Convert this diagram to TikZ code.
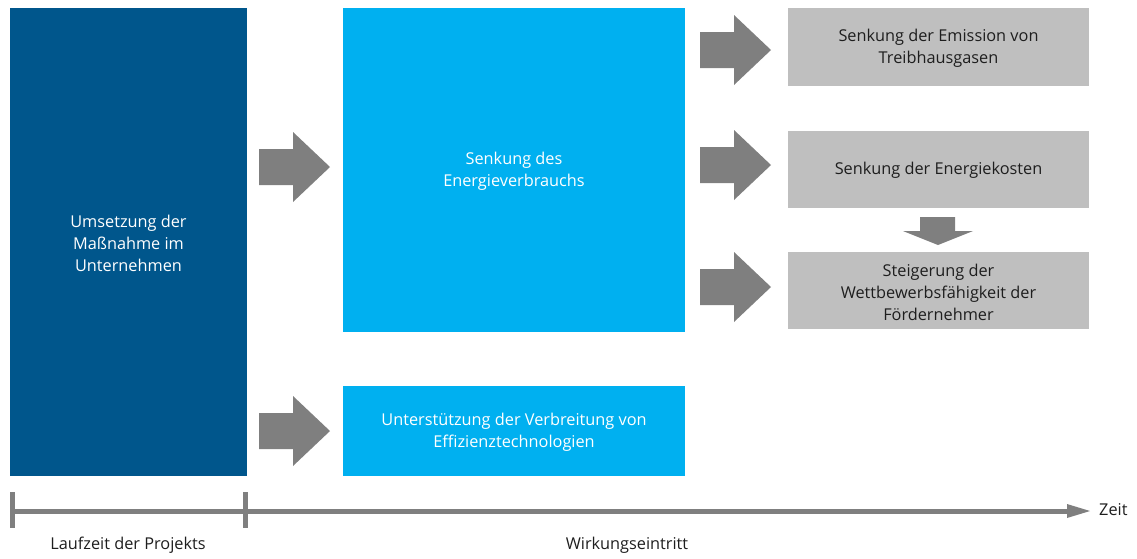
\documentclass[tikz,border=0pt]{standalone}
\usepackage{fontspec}
\setmainfont{Open Sans}
\definecolor{darkblue}{RGB}{0,86,140}
\definecolor{lightblue}{RGB}{0,176,240}
\definecolor{boxgray}{RGB}{191,191,191}
\definecolor{arrowgray}{RGB}{127,127,127}
\definecolor{textdark}{RGB}{30,30,30}
\tikzset{
  box/.style={draw=none, inner sep=0pt, align=center, font=\fontsize{16.3}{22}\selectfont},
  blockarrow/.style={fill=arrowgray, draw=none},
  timeline/.style={draw=arrowgray, line width=5pt},
  label/.style={font=\fontsize{16.3}{22}\selectfont, text=textdark, inner sep=0pt}
}
\begin{document}
\begin{tikzpicture}[x=1pt,y=-1pt]
\useasboundingbox (0,0) rectangle (1137,558);
% boxes
\fill[darkblue] (10,8) rectangle (247,476);
\node[box, text=white] (dark) at (128.5,243) {Umsetzung der\\Maßnahme im\\Unternehmen};
\fill[lightblue] (343,8) rectangle (685,332);
\node[box, text=white] (energy) at (514,171) {Senkung des\\Energieverbrauchs};
\fill[lightblue] (343,386) rectangle (685,476);
\node[box, text=white] (diff) at (514,432) {Unterstützung der Verbreitung von\\Effizienztechnologien};
\fill[boxgray] (788,8) rectangle (1089,86);
\node[box, text=textdark] (emis) at (938.5,48) {Senkung der Emission von\\Treibhausgasen};
\fill[boxgray] (788,131) rectangle (1089,208);
\node[box, text=textdark] (cost) at (938.5,170) {Senkung der Energiekosten};
\fill[boxgray] (788,252) rectangle (1089,329);
\node[box, text=textdark] (comp) at (938.5,292) {Steigerung der\\Wettbewerbsfähigkeit der\\Fördernehmer};
% block arrows (right)
\foreach \x/\y in {259/167, 259/431, 700/50, 700/165, 700/287}{
  \fill[blockarrow] (\x,\y-18) -- (\x+34,\y-18) -- (\x+34,\y-35) -- (\x+71,\y) -- (\x+34,\y+35) -- (\x+34,\y+18) -- (\x,\y+18) -- cycle;
}
% down arrow
\fill[blockarrow] (920,217) -- (955,217) -- (955,231) -- (973,231) -- (938,245) -- (903,231) -- (920,231) -- cycle;
% timeline
\coordinate (t0) at (12.5,511);
\coordinate (tend) at (1070,511);
\draw[timeline] (t0) -- (tend);
\fill[arrowgray] (1067,504) -- (1090,511) -- (1067,518) -- cycle;
\draw[timeline] (12.5,492) -- (12.5,528);
\draw[timeline] (245.5,492) -- (245.5,528);
\node[label, anchor=west] (zeit) at (1099,510) {Zeit};
\node[label] (lauf) at (128,545) {Laufzeit der Projekts};
\node[label] (wirk) at (627,545) {Wirkungseintritt};
\end{tikzpicture}
\end{document}
